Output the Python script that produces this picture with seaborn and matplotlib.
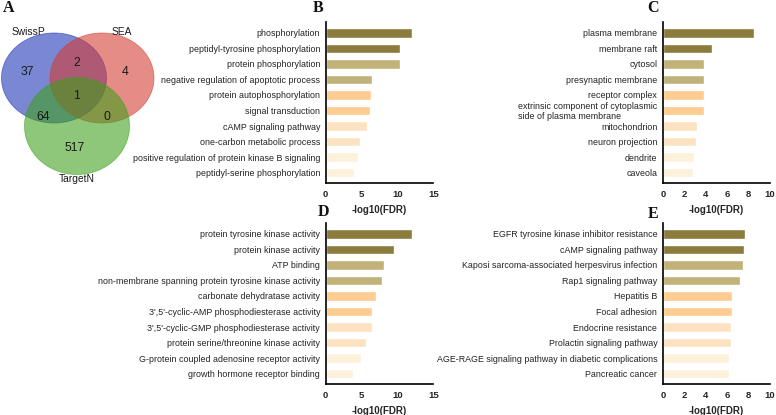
import matplotlib
matplotlib.use("Agg")
import matplotlib.pyplot as plt
import seaborn as sns
import pandas as pd
from matplotlib.patches import Ellipse

sns.set_style("white")
plt.rcParams['font.family'] = ['Liberation Sans', 'DejaVu Sans']

# ---------------- data ----------------
venn_sets = ["SwissP", "SEA", "TargetN"]
venn_counts = {"SwissP": 37, "SEA": 4, "TargetN": 517,
               "SwissP&SEA": 2, "SwissP&TargetN": 64, "SEA&TargetN": 0,
               "all": 1}

b_terms = ["phosphorylation", "peptidyl-tyrosine phosphorylation", "protein phosphorylation",
           "negative regulation of apoptotic process", "protein autophosphorylation",
           "signal transduction", "cAMP signaling pathway", "one-carbon metabolic process",
           "positive regulation of protein kinase B signaling", "peptidyl-serine phosphorylation"]
b_vals = [12.1, 10.35, 10.35, 6.4, 6.3, 6.2, 5.8, 4.8, 4.45, 3.9]

c_terms = ["plasma membrane", "membrane raft", "cytosol", "presynaptic membrane",
           "receptor complex", "extrinsic component of cytoplasmic\nside of plasma membrane",
           "mitochondrion", "neuron projection", "dendrite", "caveola"]
c_vals = [8.55, 4.63, 3.87, 3.87, 3.87, 3.87, 3.16, 3.1, 2.9, 2.85]

d_terms = ["protein tyrosine kinase activity", "protein kinase activity", "ATP binding",
           "non-membrane spanning protein tyrosine kinase activity",
           "carbonate dehydratase activity", "3',5'-cyclic-AMP phosphodiesterase activity",
           "3',5'-cyclic-GMP phosphodiesterase activity", "protein serine/threonine kinase activity",
           "G-protein coupled adenosine receptor activity", "growth hormone receptor binding"]
d_vals = [12.05, 9.5, 8.1, 7.9, 6.95, 6.45, 6.45, 5.65, 4.95, 3.85]

e_terms = ["EGFR tyrosine kinase inhibitor resistance", "cAMP signaling pathway",
           "Kaposi sarcoma-associated herpesvirus infection", "Rap1 signaling pathway",
           "Hepatitis B", "Focal adhesion", "Endocrine resistance", "Prolactin signaling pathway",
           "AGE-RAGE signaling pathway in diabetic complications", "Pancreatic cancer"]
e_vals = [7.66, 7.57, 7.45, 7.2, 6.46, 6.46, 6.37, 6.37, 6.2, 6.2]

tier_colors = ['#8B7B3D', '#8B7B3D', '#C1B27A', '#C1B27A', '#FDCC90',
               '#FDCC90', '#FDE2C2', '#FDE2C2', '#FEF1DC', '#FEF1DC']

# ---------------- figure ----------------
W, H = 776, 415
fig = plt.figure(figsize=(W / 100, H / 100), dpi=100)


def px_axes(x0, y0, x1, y1):
    return fig.add_axes([x0 / W, 1 - y1 / H, (x1 - x0) / W, (y1 - y0) / H])


def ftext(x, y, s, **kw):
    fig.text(x / W, 1 - y / H, s, **kw)


letter_kw = dict(family=['Liberation Serif', 'DejaVu Serif'], fontweight='bold',
                 fontsize=11.5, ha='center', va='center', color='#111111')


def bar_panel(rect, terms, vals, xmax, xticks):
    ax = px_axes(*rect)
    df = pd.DataFrame({"term": terms, "val": vals})
    sns.barplot(data=df, x="val", y="term", hue="term", palette=tier_colors,
                legend=False, width=0.6, ax=ax, saturation=1)
    ax.set_xlim(0, xmax)
    ax.set_ylim(9.67, -0.7)
    ax.set_xticks(xticks)
    ax.set_xticklabels([str(t) for t in xticks], fontweight='bold', fontsize=6.8)
    ax.set_ylabel("")
    ax.set_xlabel("-log10(FDR)", fontweight='bold', fontsize=7, labelpad=4)
    for lab in ax.get_yticklabels():
        lab.set_fontsize(6.4)
        lab.set_color('#222222')
        lab.set_multialignment('left')
        lab.set_linespacing(1.05)
    ax.tick_params(axis='y', length=0, pad=4)
    ax.tick_params(axis='x', length=3, width=1, direction='out', pad=2, color='black')
    for s in ['top', 'right']:
        ax.spines[s].set_visible(False)
    for s in ['left', 'bottom']:
        ax.spines[s].set_color('black')
        ax.spines[s].set_linewidth(1.2)
    ax.grid(False)
    return ax


bar_panel((325.7, 22, 433.3, 183), b_terms, b_vals, 15, [0, 5, 10, 15])
bar_panel((662.9, 22, 770, 183), c_terms, c_vals, 10, [0, 2, 4, 6, 8, 10])
bar_panel((325.7, 223, 433.3, 384), d_terms, d_vals, 15, [0, 5, 10, 15])
bar_panel((662.9, 223, 770, 384), e_terms, e_vals, 10, [0, 2, 4, 6, 8, 10])

# ---------------- Venn ----------------
vax = px_axes(0, 0, 200, 200)
vax.set_xlim(0, 200)
vax.set_ylim(200, 0)
vax.axis('off')
circles = [((54, 78), 105, 90, '#1A32B4'),
           ((102, 78), 104, 90, '#D43A30'),
           ((77, 126), 105, 97, '#3CA018')]
for (cx, cy), w, h, col in circles:
    vax.add_patch(Ellipse((cx, cy), w, h, facecolor=col, alpha=0.58,
                          edgecolor=col, linewidth=0.6))

num_pos = {"SwissP": (27, 72), "SEA": (125, 72), "TargetN": (75, 148),
           "SwissP&SEA": (77, 63), "SwissP&TargetN": (43, 117), "SEA&TargetN": (107, 117),
           "all": (77, 96)}
for k, (x, y) in num_pos.items():
    vax.text(x, y, str(venn_counts[k]), ha='center', va='center', fontsize=8.8, color='#1a1a1a')
label_pos = [(28, 32), (122, 32), (77, 179)]
for name, (x, y) in zip(venn_sets, label_pos):
    vax.text(x, y, name, ha='center', va='center', fontsize=7.4, color='#1a1a1a')

# ---------------- panel letters ----------------
ftext(8.5, 7.5, "A", **letter_kw)
ftext(318, 8, "B", **letter_kw)
ftext(653, 8, "C", **letter_kw)
ftext(323, 212, "D", **letter_kw)
ftext(653, 214, "E", **letter_kw)

fig.savefig("out.png", dpi=100)
